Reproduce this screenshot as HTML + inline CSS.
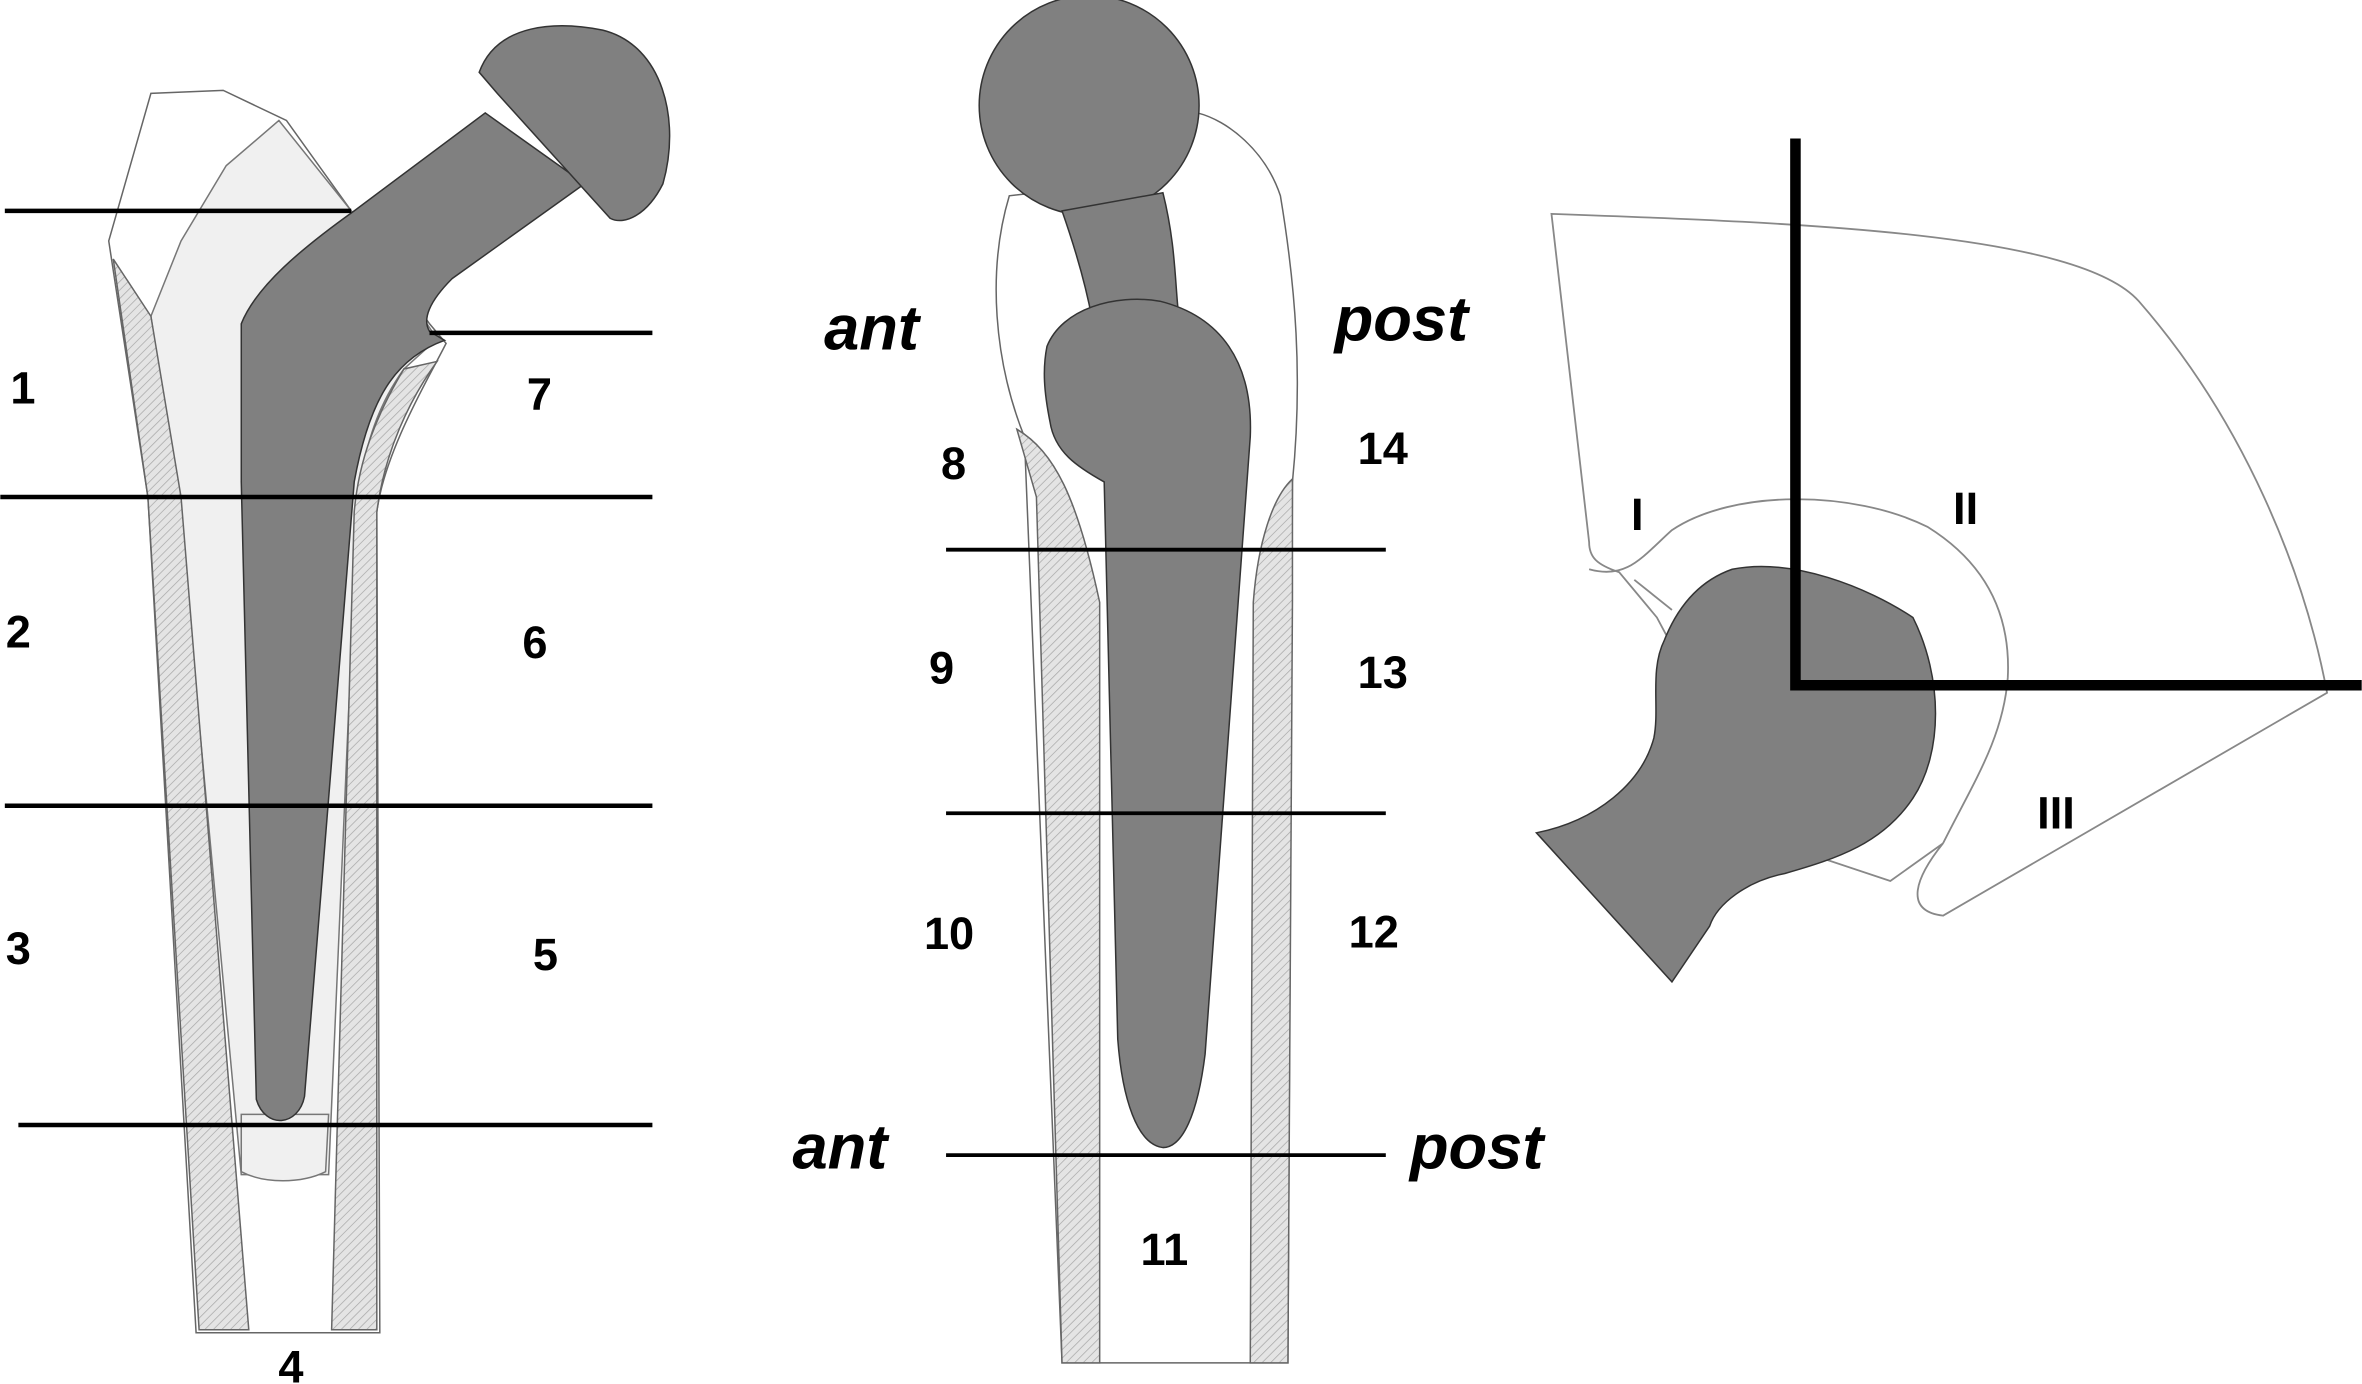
<!DOCTYPE html>
<html><head><meta charset="utf-8"><style>
html,body{margin:0;padding:0;background:#fff;}
svg{display:block;}
text{font-family:"Liberation Sans",sans-serif;font-weight:bold;fill:#000;}
</style></head><body>
<svg width="2362" height="1384" viewBox="0 0 1568 919" xmlns="http://www.w3.org/2000/svg">
<defs>
<pattern id="h" width="4" height="4" patternUnits="userSpaceOnUse" patternTransform="rotate(45)">
<rect width="4" height="4" fill="#e4e4e4"/><line x1="0" y1="0" x2="0" y2="4" stroke="#aaa" stroke-width="1"/>
</pattern>
</defs>
<!-- LEFT FEMUR -->
<path d="M72,160 L100,62 L148,60 L190,80 L233,140 L285,215 L296,228 C285,250 255,300 250,340 L252,885 L130,885 L98,330 Z" fill="#fff" stroke="#666" stroke-width="1"/>
<path d="M100,210 L120,160 L150,110 L185,80 L233,140 L290,225 L268,245 C250,270 240,300 237,340 L218,780 L160,780 L118,330 Z" fill="#f0f0f0" stroke="#777" stroke-width="1"/>
<path d="M160,740 L218,740 L216,778 C200,786 175,786 160,778 Z" fill="#f0f0f0" stroke="#777" stroke-width="1"/>
<path d="M75,172 L100,210 L120,330 L165,883 L132,883 L98,330 Z" fill="url(#h)" stroke="#666" stroke-width="1"/>
<path d="M290,240 L268,245 C250,275 238,305 235,340 L220,883 L250,883 L250,340 C255,300 272,265 290,240 Z" fill="url(#h)" stroke="#666" stroke-width="1"/>
<path d="M160,215 C170,190 200,165 235,140 L322,75 L388,122 L300,185 C285,200 280,212 285,220 L295,226 C262,238 245,265 235,320 L202,728 C198,748 176,750 170,730 L160,320 Z" fill="#808080" stroke="#333" stroke-width="1"/>
<path d="M318,48 C330,15 370,14 400,20 C440,30 452,80 440,122 C430,142 415,150 405,145 L330,62 Z" fill="#808080" stroke="#333" stroke-width="1"/>
<g stroke="#000" stroke-width="3">
<line x1="3" y1="140" x2="233" y2="140"/>
<line x1="285" y1="221" x2="433" y2="221"/>
<line x1="0" y1="330" x2="433" y2="330"/>
<line x1="3" y1="535" x2="433" y2="535"/>
<line x1="12" y1="747" x2="433" y2="747"/>
</g>
<g font-size="30" text-anchor="middle">
<text x="15" y="268">1</text><text x="358" y="272">7</text>
<text x="12" y="430">2</text><text x="355" y="437">6</text>
<text x="12" y="640">3</text><text x="362" y="644">5</text>
<text x="193" y="918">4</text>
</g>
<!-- MIDDLE -->
<path d="M670,130 C655,180 660,240 680,290 L705,905 L855,905 L858,320 C865,250 860,190 850,130 C840,100 815,80 795,75 L760,120 Z" fill="#fff" stroke="#666" stroke-width="1"/>
<path d="M675,285 C700,300 715,330 730,400 L730,905 L705,905 L688,330 Z" fill="url(#h)" stroke="#666" stroke-width="1"/>
<path d="M858,318 C845,330 835,360 832,400 L830,905 L855,905 L858,400 Z" fill="url(#h)" stroke="#666" stroke-width="1"/>
<circle cx="723" cy="70" r="73" fill="#808080" stroke="#333" stroke-width="1"/>
<path d="M705,140 L772,128 C780,160 780,185 782,205 L725,212 C720,185 712,160 705,140 Z" fill="#808080" stroke="#333" stroke-width="1"/>
<path d="M695,230 C705,205 740,195 770,200 C810,210 832,240 830,290 L800,700 C795,740 785,762 772,762 C755,760 745,730 742,690 L733,320 C715,310 700,300 697,280 C693,260 692,245 695,230 Z" fill="#808080" stroke="#333" stroke-width="1"/>
<g stroke="#000" stroke-width="2.5">
<line x1="628" y1="365" x2="920" y2="365"/>
<line x1="628" y1="540" x2="920" y2="540"/>
<line x1="628" y1="767" x2="920" y2="767"/>
</g>
<g font-size="42" font-style="italic">
<text x="547" y="232">ant</text><text x="886" y="226">post</text>
<text x="526" y="776">ant</text><text x="936" y="776">post</text>
</g>
<g font-size="30" text-anchor="middle">
<text x="633" y="318">8</text><text x="918" y="308">14</text>
<text x="625" y="454">9</text><text x="918" y="457">13</text>
<text x="630" y="630">10</text><text x="912" y="629">12</text>
<text x="773" y="840">11</text>
</g>
<!-- RIGHT -->
<path d="M1030,142 C1200,148 1380,155 1420,200 C1490,280 1530,380 1545,460 L1290,608 C1265,605 1270,585 1290,560 L1255,585 L1180,560 L1100,410 L1075,380 C1060,375 1055,370 1055,360 Z" fill="#fff" stroke="#888" stroke-width="1.2"/>
<path d="M1055,378 C1080,385 1090,370 1110,352 C1150,325 1230,325 1280,350 C1320,375 1335,410 1333,450 C1330,490 1310,520 1290,560" fill="none" stroke="#888" stroke-width="1.2"/>
<line x1="1110" y1="405" x2="1085" y2="385" stroke="#888" stroke-width="1.2"/>
<path d="M1150,378 C1190,370 1240,390 1270,410 C1290,450 1290,500 1270,530 C1250,560 1220,570 1185,580 C1160,585 1140,600 1135,615 L1110,652 L1020,553 C1060,545 1090,520 1098,490 C1102,470 1095,445 1105,425 C1115,400 1130,385 1150,378 Z" fill="#808080" stroke="#333" stroke-width="1"/>
<g stroke="#000" stroke-width="7" fill="none">
<path d="M1192,92 L1192,455 L1568,455"/>
</g>
<g font-size="30" text-anchor="middle">
<text x="1087" y="352">I</text><text x="1305" y="348">II</text><text x="1365" y="550">III</text>
</g>
</svg>
</body></html>
